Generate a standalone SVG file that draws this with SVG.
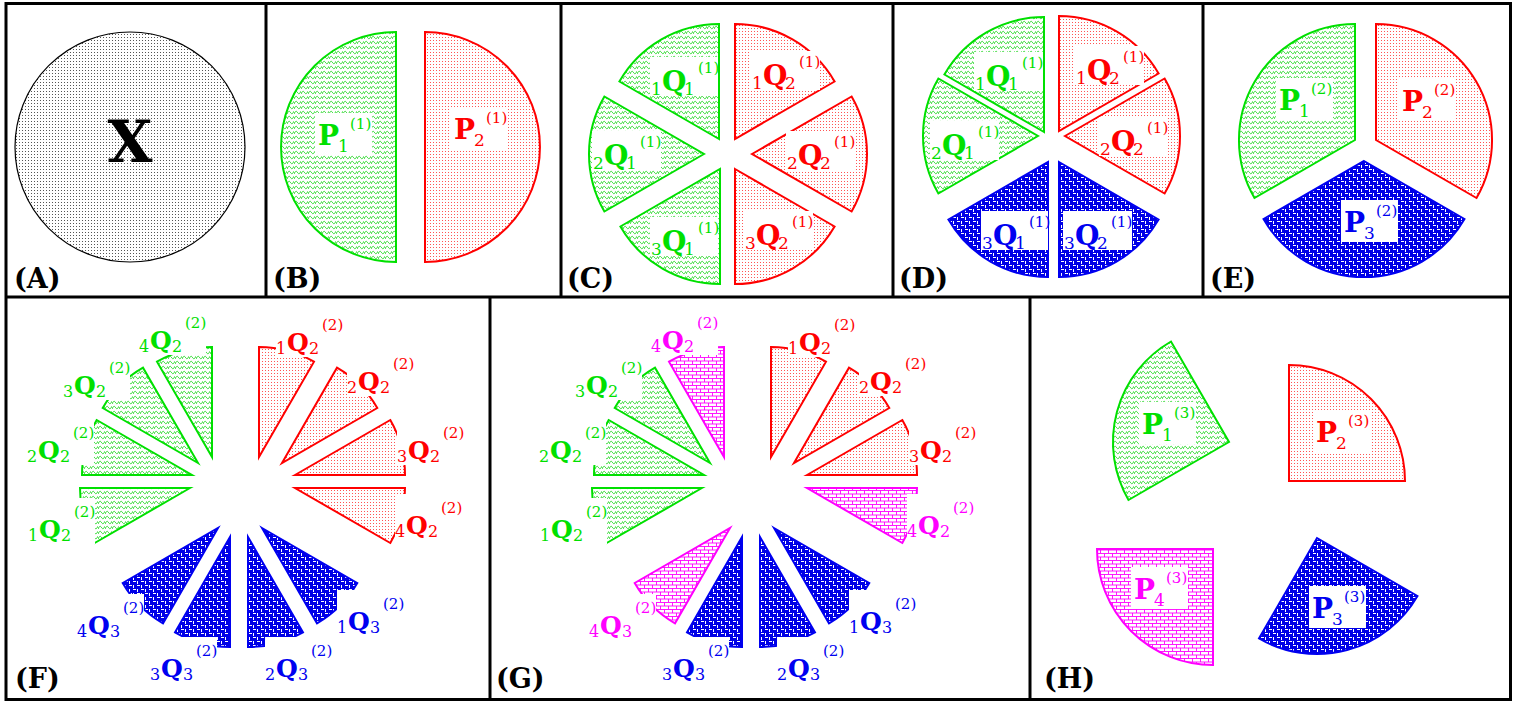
<svg xmlns="http://www.w3.org/2000/svg" width="1515" height="704" viewBox="0 0 1515 704">
<defs>
<pattern id="pa" width="3" height="3" patternUnits="userSpaceOnUse"><rect width="3" height="3" fill="#fff"/><rect x="1" y="1" width="1" height="1" fill="#555"/></pattern>
<pattern id="pr" width="3" height="3" patternUnits="userSpaceOnUse"><rect width="3" height="3" fill="#fff"/><rect x="1" y="1" width="1" height="1" fill="#f55"/></pattern>
<pattern id="pg" width="7" height="5" patternUnits="userSpaceOnUse"><rect width="7" height="5" fill="#fff"/><path d="M0,4 C1.3,0.8 2.6,0.8 3.5,2.5 S5.7,4.2 7,1.2" fill="none" stroke="#22d822" stroke-width="1"/></pattern>
<pattern id="pb" width="8" height="8" patternUnits="userSpaceOnUse"><rect width="8" height="8" fill="#0000e6"/><path d="M1,1.5h3M5,5.5h3M5.5,1v3M1.5,5v3" stroke="#fff" stroke-width="1"/></pattern>
<pattern id="pm" width="8" height="7" patternUnits="userSpaceOnUse"><rect width="8" height="7" fill="#fff"/><path d="M0,0.5H8M0,4H8M0.5,0.5V4M4.5,4V7" stroke="#f0f" stroke-width="0.9"/></pattern>
</defs>
<style>
.pg{fill:url(#pg);stroke:#00e000;stroke-width:2}
.pr{fill:url(#pr);stroke:#f00;stroke-width:2}
.pb{fill:url(#pb);stroke:#0000f0;stroke-width:2}
.pm{fill:url(#pm);stroke:#f0f;stroke-width:2}
.bx{fill:#fff}
.tg{fill:#00e000}.tr{fill:#f00}.tb{fill:#0000f0}.tm{fill:#f0f}
.M{font:bold 28px "DejaVu Serif",serif}
.M2{font:bold 25px "DejaVu Serif",serif}
.S{font:17px "DejaVu Serif",serif}
.S2{font:16px "DejaVu Serif",serif}
.U{font:15px "DejaVu Serif",serif}
.U2{font:15px "DejaVu Serif",serif}
.L{font:bold 27px "DejaVu Serif",serif;fill:#000}
.fr{fill:none;stroke:#000;stroke-width:3}
</style>
<rect width="1515" height="704" fill="#fff"/>

<!-- Panel A -->
<g id="A-circle"><circle cx="130" cy="147" r="115" fill="url(#pa)" stroke="#000" stroke-width="1.2"/>
<text x="130" y="162" text-anchor="middle" style="font:bold 58px 'DejaVu Serif',serif">X</text></g>

<!-- Panel B -->
<g id="B-P1"><path class="pg" d="M396,262 A115,115 0 0 1 396,32 Z"/></g>
<g id="B-P2"><path class="pr" d="M425,32 A115,115 0 0 1 425,262 Z"/></g>
<g id="B-P1-label"><rect class="bx" x="315" y="113" width="57" height="42"/><text class="M tg" x="318" y="145">P</text><text class="S tg" x="338" y="152">1</text><text class="U tg" x="350" y="129">(1)</text></g>
<g id="B-P2-label"><rect class="bx" x="451" y="107" width="57" height="42"/><text class="M tr" x="454" y="139">P</text><text class="S tr" x="474" y="146">2</text><text class="U tr" x="486" y="123">(1)</text></g>

<!-- Panel C -->
<g id="C-1Q1"><path class="pg" d="M719,139 L619.4,81.5 A115,115 0 0 1 719,24 Z"/></g>
<g id="C-1Q2"><path class="pr" d="M735,139 L735,24 A115,115 0 0 1 834.6,81.5 Z"/></g>
<g id="C-2Q1"><path class="pg" d="M704,154 L604.4,211.5 A115,115 0 0 1 604.4,96.5 Z"/></g>
<g id="C-2Q2"><path class="pr" d="M752,154 L851.6,96.5 A115,115 0 0 1 851.6,211.5 Z"/></g>
<g id="C-3Q1"><path class="pg" d="M720,169 L720,284 A115,115 0 0 1 620.4,226.5 Z"/></g>
<g id="C-3Q2"><path class="pr" d="M735,169 L834.6,226.5 A115,115 0 0 1 735,284 Z"/></g>
<g id="C-1Q1-label"><rect class="bx" x="650" y="57" width="68" height="39"/><text class="S tg" x="651" y="95">1</text><text class="M tg" x="662" y="91">Q</text><text class="S tg" x="684" y="95">1</text><text class="U tg" x="698" y="73">(1)</text></g>
<g id="C-1Q2-label"><rect class="bx" x="751" y="51" width="69" height="39"/><text class="S tr" x="752" y="89">1</text><text class="M tr" x="763" y="85">Q</text><text class="S tr" x="785" y="89">2</text><text class="U tr" x="799" y="67">(1)</text></g>
<g id="C-2Q1-label"><rect class="bx" x="592" y="131" width="69" height="39"/><text class="S tg" x="593" y="169">2</text><text class="M tg" x="604" y="165">Q</text><text class="S tg" x="626" y="169">1</text><text class="U tg" x="640" y="147">(1)</text></g>
<g id="C-2Q2-label"><rect class="bx" x="786" y="131" width="69" height="39"/><text class="S tr" x="787" y="169">2</text><text class="M tr" x="798" y="165">Q</text><text class="S tr" x="820" y="169">2</text><text class="U tr" x="834" y="147">(1)</text></g>
<g id="C-3Q1-label"><rect class="bx" x="650" y="217" width="68" height="39"/><text class="S tg" x="651" y="255">3</text><text class="M tg" x="662" y="251">Q</text><text class="S tg" x="684" y="255">1</text><text class="U tg" x="698" y="233">(1)</text></g>
<g id="C-3Q2-label"><rect class="bx" x="744" y="211" width="69" height="39"/><text class="S tr" x="745" y="249">3</text><text class="M tr" x="756" y="245">Q</text><text class="S tr" x="778" y="249">2</text><text class="U tr" x="792" y="227">(1)</text></g>

<!-- Panel D -->
<g id="D-1Q1"><path class="pg" d="M1044,132 L944.4,74.5 A115,115 0 0 1 1044,17 Z"/></g>
<g id="D-2Q1"><path class="pg" d="M1038,136 L938.4,193.5 A115,115 0 0 1 938.4,78.5 Z"/></g>
<g id="D-1Q2"><path class="pr" d="M1059,131 L1059,16 A115,115 0 0 1 1158.6,73.5 Z"/></g>
<g id="D-2Q2"><path class="pr" d="M1065,136 L1164.6,78.5 A115,115 0 0 1 1164.6,193.5 Z"/></g>
<g id="D-3Q1"><path class="pb" d="M1048,162 L1048,277 A115,115 0 0 1 948.4,219.5 Z"/></g>
<g id="D-3Q2"><path class="pb" d="M1059,162 L1158.6,219.5 A115,115 0 0 1 1059,277 Z"/></g>
<g id="D-1Q1-label"><rect class="bx" x="974" y="52" width="69" height="39"/><text class="S tg" x="975" y="90">1</text><text class="M tg" x="986" y="86">Q</text><text class="S tg" x="1008" y="90">1</text><text class="U tg" x="1022" y="68">(1)</text></g>
<g id="D-1Q2-label"><rect class="bx" x="1075" y="46" width="69" height="39"/><text class="S tr" x="1076" y="84">1</text><text class="M tr" x="1087" y="80">Q</text><text class="S tr" x="1109" y="84">2</text><text class="U tr" x="1123" y="62">(1)</text></g>
<g id="D-2Q1-label"><rect class="bx" x="930" y="121" width="69" height="39"/><text class="S tg" x="931" y="159">2</text><text class="M tg" x="942" y="155">Q</text><text class="S tg" x="964" y="159">1</text><text class="U tg" x="978" y="137">(1)</text></g>
<g id="D-2Q2-label"><rect class="bx" x="1099" y="117" width="69" height="39"/><text class="S tr" x="1100" y="155">2</text><text class="M tr" x="1111" y="151">Q</text><text class="S tr" x="1133" y="155">2</text><text class="U tr" x="1147" y="133">(1)</text></g>
<g id="D-3Q1-label"><rect class="bx" x="981" y="211" width="67" height="39"/><text class="S tb" x="982" y="249">3</text><text class="M tb" x="993" y="245">Q</text><text class="S tb" x="1015" y="249">1</text><text class="U tb" x="1029" y="227">(1)</text></g>
<g id="D-3Q2-label"><rect class="bx" x="1063" y="211" width="69" height="39"/><text class="S tb" x="1064" y="249">3</text><text class="M tb" x="1075" y="245">Q</text><text class="S tb" x="1097" y="249">2</text><text class="U tb" x="1111" y="227">(1)</text></g>

<!-- Panel E -->
<g id="E-P1"><path class="pg" d="M1355,140 L1254.5,198 A116,116 0 0 1 1355,24 Z"/></g>
<g id="E-P2"><path class="pr" d="M1376,140 L1376,24 A116,116 0 0 1 1476.5,198 Z"/></g>
<g id="E-P3"><path class="pb" d="M1364,161 L1464.5,219 A116,116 0 0 1 1263.5,219 Z"/></g>
<g id="E-P1-label"><rect class="bx" x="1276" y="78" width="57" height="42"/><text class="M tg" x="1279" y="110">P</text><text class="S tg" x="1299" y="117">1</text><text class="U tg" x="1311" y="94">(2)</text></g>
<g id="E-P2-label"><rect class="bx" x="1399" y="79" width="57" height="42"/><text class="M tr" x="1402" y="111">P</text><text class="S tr" x="1422" y="118">2</text><text class="U tr" x="1434" y="95">(2)</text></g>
<g id="E-P3-label"><rect class="bx" x="1341" y="200" width="57" height="42"/><text class="M tb" x="1344" y="232">P</text><text class="S tb" x="1364" y="239">3</text><text class="U tb" x="1376" y="216">(2)</text></g>

<!-- Panel F -->
<g id="F-1Q2"><path class="pg" d="M190,488 L94.7,543 A110,110 0 0 1 80,488 Z"/></g>
<g id="F-2Q2"><path class="pg" d="M192,475 L82,475 A110,110 0 0 1 96.7,420 Z"/></g>
<g id="F-3Q2"><path class="pg" d="M198,463 L102.7,408 A110,110 0 0 1 143,367.7 Z"/></g>
<g id="F-4Q2g"><path class="pg" d="M212,457 L157,361.7 A110,110 0 0 1 212,347 Z"/></g>
<g id="F-1Q2r"><path class="pr" d="M259,457 L259,347 A110,110 0 0 1 314,361.7 Z"/></g>
<g id="F-2Q2r"><path class="pr" d="M282,463 L337,367.7 A110,110 0 0 1 377.3,408 Z"/></g>
<g id="F-3Q2r"><path class="pr" d="M295,475 L390.3,420 A110,110 0 0 1 405,475 Z"/></g>
<g id="F-4Q2r"><path class="pr" d="M295,488 L405,488 A110,110 0 0 1 390.3,543 Z"/></g>
<g id="F-1Q3"><path class="pb" d="M262,528 L357.3,583 A110,110 0 0 1 317,623.3 Z"/></g>
<g id="F-2Q3"><path class="pb" d="M248,537 L303,632.3 A110,110 0 0 1 248,647 Z"/></g>
<g id="F-3Q3"><path class="pb" d="M230,537 L230,647 A110,110 0 0 1 175,632.3 Z"/></g>
<g id="F-4Q3"><path class="pb" d="M218,528 L163,623.3 A110,110 0 0 1 122.7,583 Z"/></g>
<g id="F-4Q2g-label"><rect class="bx" x="139" y="309" width="67" height="46"/><text class="S2 tg" x="139" y="352">4</text><text class="M2 tg" x="150" y="349">Q</text><text class="S2 tg" x="172" y="352">2</text><text class="U2 tg" x="185" y="328">(2)</text></g>
<g id="F-3Q2-label"><rect class="bx" x="63" y="354" width="67" height="46"/><text class="S2 tg" x="63" y="397">3</text><text class="M2 tg" x="74" y="394">Q</text><text class="S2 tg" x="96" y="397">2</text><text class="U2 tg" x="109" y="373">(2)</text></g>
<g id="F-2Q2-label"><rect class="bx" x="27" y="419" width="67" height="46"/><text class="S2 tg" x="27" y="462">2</text><text class="M2 tg" x="38" y="459">Q</text><text class="S2 tg" x="60" y="462">2</text><text class="U2 tg" x="73" y="438">(2)</text></g>
<g id="F-1Q2-label"><rect class="bx" x="28" y="498" width="67" height="46"/><text class="S2 tg" x="28" y="541">1</text><text class="M2 tg" x="39" y="538">Q</text><text class="S2 tg" x="61" y="541">2</text><text class="U2 tg" x="74" y="517">(2)</text></g>
<g id="F-1Q2r-label"><rect class="bx" x="276" y="311" width="67" height="46"/><text class="S2 tr" x="276" y="354">1</text><text class="M2 tr" x="287" y="351">Q</text><text class="S2 tr" x="309" y="354">2</text><text class="U2 tr" x="322" y="330">(2)</text></g>
<g id="F-2Q2r-label"><rect class="bx" x="347" y="350" width="67" height="46"/><text class="S2 tr" x="347" y="393">2</text><text class="M2 tr" x="358" y="390">Q</text><text class="S2 tr" x="380" y="393">2</text><text class="U2 tr" x="393" y="369">(2)</text></g>
<g id="F-3Q2r-label"><rect class="bx" x="397" y="419" width="67" height="46"/><text class="S2 tr" x="397" y="462">3</text><text class="M2 tr" x="408" y="459">Q</text><text class="S2 tr" x="430" y="462">2</text><text class="U2 tr" x="443" y="438">(2)</text></g>
<g id="F-4Q2r-label"><rect class="bx" x="395" y="494" width="67" height="46"/><text class="S2 tr" x="395" y="537">4</text><text class="M2 tr" x="406" y="534">Q</text><text class="S2 tr" x="428" y="537">2</text><text class="U2 tr" x="441" y="513">(2)</text></g>
<g id="F-1Q3-label"><rect class="bx" x="337" y="590" width="67" height="46"/><text class="S2 tb" x="337" y="633">1</text><text class="M2 tb" x="348" y="630">Q</text><text class="S2 tb" x="370" y="633">3</text><text class="U2 tb" x="383" y="609">(2)</text></g>
<g id="F-2Q3-label"><rect class="bx" x="265" y="637" width="67" height="46"/><text class="S2 tb" x="265" y="680">2</text><text class="M2 tb" x="276" y="677">Q</text><text class="S2 tb" x="298" y="680">3</text><text class="U2 tb" x="311" y="656">(2)</text></g>
<g id="F-3Q3-label"><rect class="bx" x="150" y="637" width="67" height="46"/><text class="S2 tb" x="150" y="680">3</text><text class="M2 tb" x="161" y="677">Q</text><text class="S2 tb" x="183" y="680">3</text><text class="U2 tb" x="196" y="656">(2)</text></g>
<g id="F-4Q3-label"><rect class="bx" x="77" y="594" width="67" height="46"/><text class="S2 tb" x="77" y="637">4</text><text class="M2 tb" x="88" y="634">Q</text><text class="S2 tb" x="110" y="637">3</text><text class="U2 tb" x="123" y="613">(2)</text></g>

<!-- Panel G -->
<g id="G-1Q2"><path class="pg" d="M702,488 L606.7,543 A110,110 0 0 1 592,488 Z"/></g>
<g id="G-2Q2"><path class="pg" d="M704,475 L594,475 A110,110 0 0 1 608.7,420 Z"/></g>
<g id="G-3Q2"><path class="pg" d="M710,463 L614.7,408 A110,110 0 0 1 655,367.7 Z"/></g>
<g id="G-4Q2m"><path class="pm" d="M724,457 L669,361.7 A110,110 0 0 1 724,347 Z"/></g>
<g id="G-1Q2r"><path class="pr" d="M771,457 L771,347 A110,110 0 0 1 826,361.7 Z"/></g>
<g id="G-2Q2r"><path class="pr" d="M794,463 L849,367.7 A110,110 0 0 1 889.3,408 Z"/></g>
<g id="G-3Q2r"><path class="pr" d="M807,475 L902.3,420 A110,110 0 0 1 917,475 Z"/></g>
<g id="G-4Q2m2"><path class="pm" d="M807,488 L917,488 A110,110 0 0 1 902.3,543 Z"/></g>
<g id="G-1Q3"><path class="pb" d="M774,528 L869.3,583 A110,110 0 0 1 829,623.3 Z"/></g>
<g id="G-2Q3"><path class="pb" d="M760,537 L815,632.3 A110,110 0 0 1 760,647 Z"/></g>
<g id="G-3Q3"><path class="pb" d="M742,537 L742,647 A110,110 0 0 1 687,632.3 Z"/></g>
<g id="G-4Q3m"><path class="pm" d="M730,528 L675,623.3 A110,110 0 0 1 634.7,583 Z"/></g>
<g id="G-4Q2m-label"><rect class="bx" x="651" y="309" width="67" height="46"/><text class="S2 tm" x="651" y="352">4</text><text class="M2 tm" x="662" y="349">Q</text><text class="S2 tm" x="684" y="352">2</text><text class="U2 tm" x="697" y="328">(2)</text></g>
<g id="G-3Q2-label"><rect class="bx" x="575" y="354" width="67" height="46"/><text class="S2 tg" x="575" y="397">3</text><text class="M2 tg" x="586" y="394">Q</text><text class="S2 tg" x="608" y="397">2</text><text class="U2 tg" x="621" y="373">(2)</text></g>
<g id="G-2Q2-label"><rect class="bx" x="539" y="419" width="67" height="46"/><text class="S2 tg" x="539" y="462">2</text><text class="M2 tg" x="550" y="459">Q</text><text class="S2 tg" x="572" y="462">2</text><text class="U2 tg" x="585" y="438">(2)</text></g>
<g id="G-1Q2-label"><rect class="bx" x="540" y="498" width="67" height="46"/><text class="S2 tg" x="540" y="541">1</text><text class="M2 tg" x="551" y="538">Q</text><text class="S2 tg" x="573" y="541">2</text><text class="U2 tg" x="586" y="517">(2)</text></g>
<g id="G-1Q2r-label"><rect class="bx" x="788" y="311" width="67" height="46"/><text class="S2 tr" x="788" y="354">1</text><text class="M2 tr" x="799" y="351">Q</text><text class="S2 tr" x="821" y="354">2</text><text class="U2 tr" x="834" y="330">(2)</text></g>
<g id="G-2Q2r-label"><rect class="bx" x="859" y="350" width="67" height="46"/><text class="S2 tr" x="859" y="393">2</text><text class="M2 tr" x="870" y="390">Q</text><text class="S2 tr" x="892" y="393">2</text><text class="U2 tr" x="905" y="369">(2)</text></g>
<g id="G-3Q2r-label"><rect class="bx" x="909" y="419" width="67" height="46"/><text class="S2 tr" x="909" y="462">3</text><text class="M2 tr" x="920" y="459">Q</text><text class="S2 tr" x="942" y="462">2</text><text class="U2 tr" x="955" y="438">(2)</text></g>
<g id="G-4Q2m2-label"><rect class="bx" x="907" y="494" width="67" height="46"/><text class="S2 tm" x="907" y="537">4</text><text class="M2 tm" x="918" y="534">Q</text><text class="S2 tm" x="940" y="537">2</text><text class="U2 tm" x="953" y="513">(2)</text></g>
<g id="G-1Q3-label"><rect class="bx" x="849" y="590" width="67" height="46"/><text class="S2 tb" x="849" y="633">1</text><text class="M2 tb" x="860" y="630">Q</text><text class="S2 tb" x="882" y="633">3</text><text class="U2 tb" x="895" y="609">(2)</text></g>
<g id="G-2Q3-label"><rect class="bx" x="777" y="637" width="67" height="46"/><text class="S2 tb" x="777" y="680">2</text><text class="M2 tb" x="788" y="677">Q</text><text class="S2 tb" x="810" y="680">3</text><text class="U2 tb" x="823" y="656">(2)</text></g>
<g id="G-3Q3-label"><rect class="bx" x="662" y="637" width="67" height="46"/><text class="S2 tb" x="662" y="680">3</text><text class="M2 tb" x="673" y="677">Q</text><text class="S2 tb" x="695" y="680">3</text><text class="U2 tb" x="708" y="656">(2)</text></g>
<g id="G-4Q3m-label"><rect class="bx" x="589" y="594" width="67" height="46"/><text class="S2 tm" x="589" y="637">4</text><text class="M2 tm" x="600" y="634">Q</text><text class="S2 tm" x="622" y="637">3</text><text class="U2 tm" x="635" y="613">(2)</text></g>

<!-- Panel H -->
<g id="H-P1"><path class="pg" d="M1229,442 L1128.5,500 A116,116 0 0 1 1171,341.5 Z"/></g>
<g id="H-P2"><path class="pr" d="M1289,481 L1289,365 A116,116 0 0 1 1405,481 Z"/></g>
<g id="H-P3"><path class="pb" d="M1317,538 L1417.5,596 A116,116 0 0 1 1259,638.5 Z"/></g>
<g id="H-P4"><path class="pm" d="M1213,549 L1213,665 A116,116 0 0 1 1097,549 Z"/></g>
<g id="H-P1-label"><rect class="bx" x="1139" y="402" width="57" height="42"/><text class="M tg" x="1142" y="434">P</text><text class="S tg" x="1162" y="441">1</text><text class="U tg" x="1174" y="418">(3)</text></g>
<g id="H-P2-label"><rect class="bx" x="1313" y="410" width="57" height="42"/><text class="M tr" x="1316" y="442">P</text><text class="S tr" x="1336" y="449">2</text><text class="U tr" x="1348" y="426">(3)</text></g>
<g id="H-P3-label"><rect class="bx" x="1309" y="586" width="57" height="42"/><text class="M tb" x="1312" y="618">P</text><text class="S tb" x="1332" y="625">3</text><text class="U tb" x="1344" y="602">(3)</text></g>
<g id="H-P4-label"><rect class="bx" x="1131" y="567" width="57" height="42"/><text class="M tm" x="1134" y="599">P</text><text class="S tm" x="1154" y="606">4</text><text class="U tm" x="1166" y="583">(3)</text></g>

<!-- panel letters -->
<g id="panel-letters">
<text class="L" x="14" y="288">(A)</text>
<text class="L" x="273" y="288">(B)</text>
<text class="L" x="567" y="288">(C)</text>
<text class="L" x="899" y="288">(D)</text>
<text class="L" x="1210" y="288">(E)</text>
<text class="L" x="15" y="688">(F)</text>
<text class="L" x="496" y="688">(G)</text>
<text class="L" x="1044" y="688">(H)</text>
</g>

<!-- frame -->
<g id="frame" class="fr">
<rect x="6" y="3.5" width="1504.5" height="696"/>
<path d="M6,297H1510.5 M266,3.5V297 M561,3.5V297 M893,3.5V297 M1203,3.5V297 M490,297V699.5 M1030,297V699.5"/>
</g>
</svg>
